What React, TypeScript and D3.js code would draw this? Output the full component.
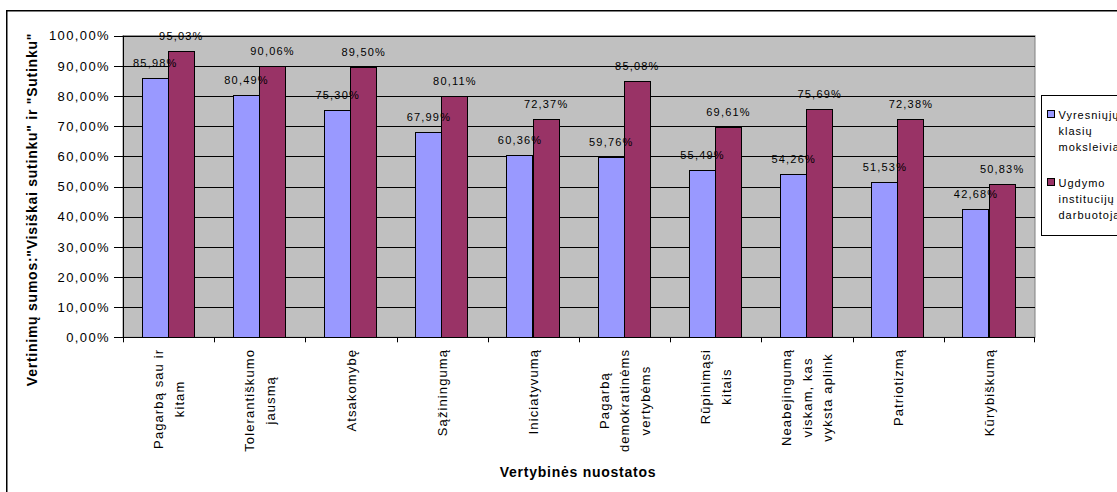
import React, { useMemo } from "react";
import * as d3 from "d3";

const categories: string[][] = [
  ["Pagarbą sau ir", "kitam"],
  ["Tolerantiškumo", "jausmą"],
  ["Atsakomybę"],
  ["Sąžiningumą"],
  ["Iniciatyvumą"],
  ["Pagarbą", "demokratinėms", "vertybėms"],
  ["Rūpinimąsi", "kitais"],
  ["Neabejingumą", "viskam, kas", "vyksta aplink"],
  ["Patriotizmą"],
  ["Kūrybiškumą"],
];
const studentValues = [85.98, 80.49, 75.3, 67.99, 60.36, 59.76, 55.49, 54.26, 51.53, 42.68];
const staffValues = [95.03, 90.06, 89.5, 80.11, 72.37, 85.08, 69.61, 75.69, 72.38, 50.83];
const seriesNames: string[][] = [
  ["Vyresniųjų", "klasių", "moksleiviai"],
  ["Ugdymo", "institucijų", "darbuotojai"],
];
const yTicks = [0, 10, 20, 30, 40, 50, 60, 70, 80, 90, 100];
const yTitle = 'Vertinimų sumos:"Visiškai sutinku" ir "Sutinku"';
const xTitle = "Vertybinės nuostatos";

const COLORS = ["#9999FF", "#993366"];
const FONT = "'Liberation Sans', Arial, sans-serif";

const fmt = (v: number) => d3.format(".2f")(v).replace(".", ",") + "%";

export default function App() {
  const W = 1117;
  const H = 492;
  const plot = { left: 123, right: 1035, top: 35.7, bottom: 337.3 };

  const x = d3
    .scaleBand<number>()
    .domain(categories.map((_, i) => i))
    .range([plot.left, plot.right])
    .padding(0);
  const bw = x.bandwidth();
  const inner = d3
    .scaleBand<number>()
    .domain([0, 1])
    .range([bw * 0.205, bw * 0.776])
    .padding(0);
  const y = d3.scaleLinear().domain([0, 100]).range([plot.bottom, plot.top]);

  const catFont = 13;
  const catLS = 1.1;
  const measure = useMemo(() => {
    const c = document.createElement("canvas");
    const ctx = c.getContext("2d")!;
    ctx.font = `${catFont}px 'Liberation Sans'`;
    return (s: string) => ctx.measureText(s).width + (s.length - 1) * catLS;
  }, []);

  const series = [studentValues, staffValues];
  const lineGap = 20.5;
  const labelTop = 349.5;

  return (
    <svg
      width={W}
      height={H}
      style={{ position: "absolute", left: 0, top: 0, background: "#fff" }}
      fontFamily={FONT}
    >
      <rect x={6.75} y={10.75} width={1300} height={700} fill="#fff" stroke="#000" strokeWidth={1.5} />

      {/* plot area */}
      <rect
        x={plot.left}
        y={plot.top}
        width={plot.right - plot.left}
        height={plot.bottom - plot.top}
        fill="#C0C0C0"
        stroke="#808080"
        strokeWidth={1}
      />
      {yTicks.map((t) => (
        <line
          key={"g" + t}
          x1={plot.left - 9}
          x2={plot.right}
          y1={Math.round(y(t)) + 0.5}
          y2={Math.round(y(t)) + 0.5}
          stroke="#000"
          strokeWidth={1}
        />
      ))}
      {yTicks.map((t) => (
        <text
          key={"yt" + t}
          x={110}
          y={y(t)}
          dy="0.36em"
          textAnchor="end"
          fontSize={13}
          letterSpacing={1.4}
        >
          {fmt(t)}
        </text>
      ))}

      {/* bars */}
      {categories.map((_, i) =>
        series.map((vals, s) => {
          const bx = (x(i) as number) + (inner(s) as number);
          const top = y(vals[i]);
          return (
            <rect
              key={`b${i}-${s}`}
              x={Math.round(bx) + 0.5}
              y={Math.round(top) + 0.5}
              width={Math.round(inner.bandwidth())}
              height={Math.round(plot.bottom) - Math.round(top)}
              fill={COLORS[s]}
              stroke="#000"
              strokeWidth={1}
            />
          );
        })
      )}

      {/* axes */}
      <line x1={plot.left + 0.5} x2={plot.left + 0.5} y1={plot.top} y2={plot.bottom} stroke="#000" />
      <line x1={plot.left} x2={plot.right} y1={Math.round(plot.bottom) + 0.5} y2={Math.round(plot.bottom) + 0.5} stroke="#000" />
      {categories.map((_, i) => (
        <line
          key={"xt" + i}
          x1={Math.round(x(i) as number) + 0.5}
          x2={Math.round(x(i) as number) + 0.5}
          y1={plot.bottom}
          y2={plot.bottom + 5}
          stroke="#000"
        />
      ))}
      <line
        x1={plot.right - 0.5}
        x2={plot.right - 0.5}
        y1={plot.bottom}
        y2={plot.bottom + 5}
        stroke="#000"
      />

      {/* value labels (drawn after all bars) */}
      {categories.map((_, i) =>
        series.map((vals, s) => {
          const bx = (x(i) as number) + (inner(s) as number);
          const top = y(vals[i]);
          return (
            <text
              key={`v${i}-${s}`}
              x={bx + inner.bandwidth() / 2 + 0.6}
              y={top - 11}
              textAnchor="middle"
              fontSize={11}
              letterSpacing={1.2}
            >
              {fmt(vals[i])}
            </text>
          );
        })
      )}

      {/* category labels */}
      {categories.map((lines, i) => {
        const cx = (x(i) as number) + bw / 2;
        const maxLen = Math.max(...lines.map(measure));
        const cy = labelTop + maxLen / 2;
        const n = lines.length;
        return (
          <g key={"cl" + i}>
            {lines.map((ln, j) => {
              const lx = cx + (j - (n - 1) / 2) * lineGap;
              return (
                <text
                  key={j}
                  transform={`translate(${lx},${cy}) rotate(-90)`}
                  textAnchor="middle"
                  dy="0.36em"
                  fontSize={catFont}
                  letterSpacing={catLS}
                >
                  {ln}
                </text>
              );
            })}
          </g>
        );
      })}

      {/* axis titles */}
      <text
        transform={`translate(36.5,209.5) rotate(-90)`}
        textAnchor="middle"
        fontSize={14}
        fontWeight="bold"
        letterSpacing={0.75}
      >
        {yTitle}
      </text>
      <text x={578} y={477.3} textAnchor="middle" fontSize={14} fontWeight="bold" letterSpacing={0.75}>
        {xTitle}
      </text>

      {/* legend */}
      <rect x={1041.5} y={95.5} width={200} height={140} fill="#fff" stroke="#000" strokeWidth={1} />
      {seriesNames.map((lines, s) => {
        const by = 119 + s * 68;
        return (
          <g key={"lg" + s}>
            <rect x={1047.5} y={by - 8.5} width={7} height={7} fill={COLORS[s]} stroke="#000" strokeWidth={1} />
            {lines.map((ln, j) => (
              <text key={j} x={1058.5} y={by + j * 16} fontSize={11} letterSpacing={1}>
                {ln}
              </text>
            ))}
          </g>
        );
      })}
    </svg>
  );
}
